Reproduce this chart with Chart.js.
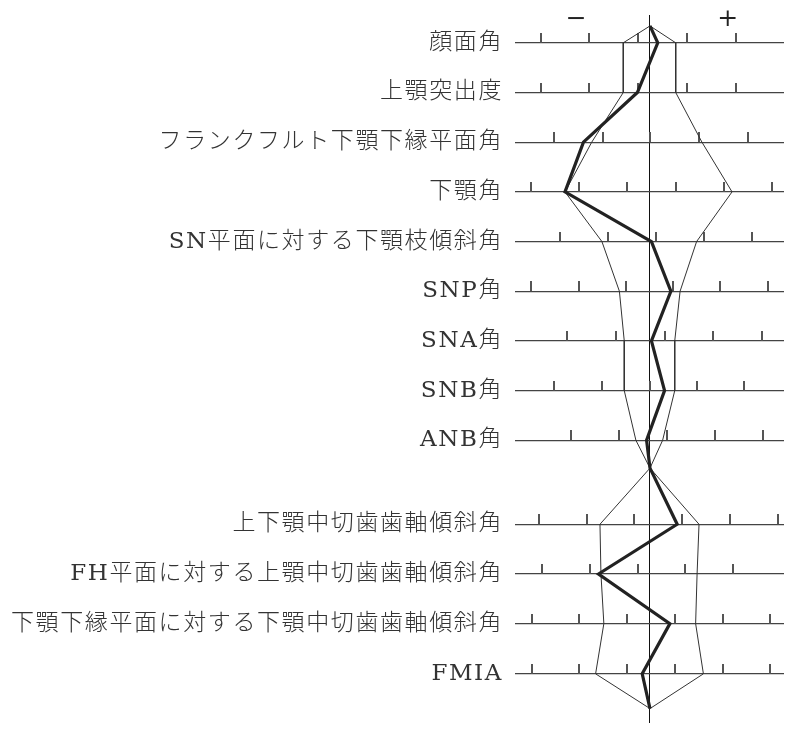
<!DOCTYPE html>
<html>
<head>
<meta charset="utf-8">
<script src="https://cdn.jsdelivr.net/npm/chart.js@4"></script>
<style>
  body { margin: 0; background: #fff; }
  #wrap { width: 797px; height: 737px; }
</style>
</head>
<body>
<div id="wrap"><canvas id="profilogram" width="797" height="737"></canvas></div>
<script>
// measurements, top to bottom
var labels = [
    '顔面角', '上顎突出度', 'フランクフルト下顎下縁平面角', '下顎角',
    'SN平面に対する下顎枝傾斜角', 'SNP角', 'SNA角', 'SNB角', 'ANB角',
    '上下顎中切歯歯軸傾斜角', 'FH平面に対する上顎中切歯歯軸傾斜角',
    '下顎下縁平面に対する下顎中切歯歯軸傾斜角', 'FMIA'
];
// vertical position of each measurement row (row spacing = 1)
var rowPos = [0, 1, 2, 3, 4, 5, 6, 7, 8, 9.69, 10.69, 11.69, 12.70];
// where the polygon closes: top, between the two groups, bottom
var apexPos = [-0.34, 8.56, 13.40];

// patient (bold line), in SD-like units, 0 = mean
var patient = [0.16, -0.26, -1.37, -1.75, 0.03, 0.43, 0.03, 0.30, -0.07, 0.56, -1.06, 0.41, -0.16];
// normal range (thin polygon)
var normLow  = [-0.55, -0.55, -1.20, -1.75, -0.99, -0.63, -0.53, -0.53, -0.29, -1.03, -1.01, -0.95, -1.12];
var normHigh = [0.53, 0.53, 1.07, 1.69, 0.96, 0.62, 0.51, 0.51, 0.26, 1.01, 0.97, 0.94, 1.10];

// scale marks on each row
var tickMarks = [
    [-2.25, -1.25, -0.24, 0.76, 1.77],
    [-2.25, -1.25, -0.24, 0.76, 1.77],
    [-1.97, -0.97, 0.01, 1.01, 2.01],
    [-2.45, -1.46, -0.47, 0.53, 1.52, 2.51],
    [-1.85, -0.86, 0.12, 1.11, 2.10],
    [-2.45, -1.47, -0.49, 0.48, 1.45, 2.43],
    [-1.70, -0.70, 0.30, 1.30, 2.30],
    [-1.97, -0.99, 0.00, 0.96, 1.94],
    [-1.62, -0.63, 0.36, 1.34, 2.33],
    [-2.29, -1.30, -0.32, 0.66, 1.64, 2.63],
    [-2.22, -1.23, -0.25, 0.73, 1.71],
    [-2.44, -1.46, -0.47, 0.51, 1.50, 2.48],
    [-2.44, -1.46, -0.47, 0.51, 1.50, 2.48]
];

// − / + above the chart
var signText = ['−', '+'];
var signPos = [-1.52, 1.60];
var signRow = -0.46;

var serif = "'DejaVu Serif', 'Noto Sans CJK JP', serif";

// polygon path: apex -> upper rows -> middle apex -> lower rows -> bottom apex
function path(values) {
    var pts = [{x: 0, y: apexPos[0]}];
    for (var i = 0; i < values.length; i++) {
        if (i === 9) pts.push({x: 0, y: apexPos[1]});
        pts.push({x: values[i], y: rowPos[i]});
    }
    pts.push({x: 0, y: apexPos[2]});
    return pts;
}

var tickPoints = [];
tickMarks.forEach(function(row, i) {
    row.forEach(function(t) { tickPoints.push({x: t, y: rowPos[i]}); });
});

// small upward tick used as point style
var tickImg = document.createElement('canvas');
tickImg.width = 2;
tickImg.height = 20;
var tctx = tickImg.getContext('2d');
tctx.fillStyle = '#555';
tctx.fillRect(0, 0, 2, 10);

var signsPlugin = {
    id: 'signs',
    beforeDraw: function(chart) {
        chart.ctx.letterSpacing = '1.6px';
    },
    afterDraw: function(chart) {
        var ctx = chart.ctx;
        var xs = chart.scales.x, ys = chart.scales.y;
        ctx.save();
        ctx.letterSpacing = '0px';
        ctx.fillStyle = '#222';
        ctx.font = '300 25px ' + serif;
        ctx.textAlign = 'center';
        ctx.textBaseline = 'middle';
        for (var i = 0; i < signText.length; i++) {
            ctx.fillText(signText[i], xs.getPixelForValue(signPos[i]), ys.getPixelForValue(signRow));
        }
        ctx.restore();
    }
};

new Chart(document.getElementById('profilogram').getContext('2d'), {
    type: 'scatter',
    data: {
        datasets: [{
            label: 'patient',
            data: path(patient),
            showLine: true,
            borderColor: '#222',
            borderWidth: 3.2,
            borderJoinStyle: 'miter',
            pointRadius: 0,
            order: 0
        }, {
            label: 'low',
            data: path(normLow),
            showLine: true,
            borderColor: '#333',
            borderWidth: 1,
            pointRadius: 0,
            order: 1
        }, {
            label: 'high',
            data: path(normHigh),
            showLine: true,
            borderColor: '#333',
            borderWidth: 1,
            pointRadius: 0,
            order: 1
        }, {
            label: 'ticks',
            data: tickPoints,
            pointStyle: tickImg,
            order: 2
        }]
    },
    options: {
        responsive: false,
        animation: false,
        events: [],
        layout: { padding: { left: 0, top: 15, right: 13, bottom: 14 } },
        plugins: { legend: { display: false }, tooltip: { enabled: false } },
        scales: {
            x: {
                type: 'linear',
                min: -2.78,
                max: 2.76,
                afterBuildTicks: function(scale) { scale.ticks = [{value: 0}]; },
                ticks: { display: false },
                border: { display: false },
                grid: { drawTicks: false, color: '#111', lineWidth: 1 }
            },
            y: {
                type: 'linear',
                reverse: true,
                min: -0.56,
                max: 13.69,
                afterBuildTicks: function(scale) {
                    scale.ticks = rowPos.map(function(v) { return {value: v}; });
                },
                afterFit: function(scale) {
                    scale.width = 515;
                    scale.paddingTop = 0;
                    scale.paddingBottom = 0;
                },
                ticks: {
                    autoSkip: false,
                    padding: 12,
                    color: '#333',
                    font: { family: serif, size: 23, weight: 300 },
                    callback: function(v, i) { return labels[i]; }
                },
                border: { display: false },
                grid: { drawTicks: false, color: '#444', lineWidth: 1.2 }
            }
        }
    },
    plugins: [signsPlugin]
});
</script>
</body>
</html>
